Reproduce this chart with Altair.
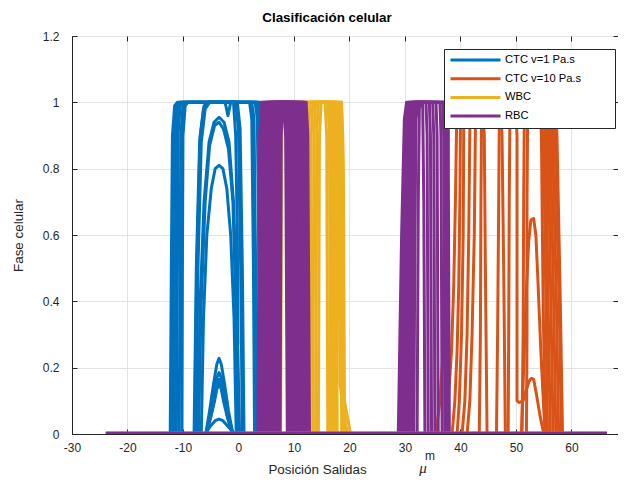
import altair as alt
import pandas as pd

SERIES = ["CTC v=1 Pa.s", "CTC v=10 Pa.s", "WBC", "RBC"]
COLORS = ["#0072BD", "#D95319", "#EDB120", "#7E2F8E"]
X_TICKS = [-30, -20, -10, 0, 10, 20, 30, 40, 50, 60]
Y_TICKS = [0, 0.2, 0.4, 0.6, 0.8, 1, 1.2]
BASELINE_X = [-23.9, 66.4]

# CTC v=1 Pa.s (blue) curves: lists of (x, y) points
ctc1_curves = [
    [(-12.3, 0), (-12.1, 0.5), (-11.9, 0.9), (-11.5, 0.99), (-11.0, 1), (3.0, 1), (3.4, 0.95), (3.7, 0.5), (3.9, 0)],
    [(-12.0, 0), (-11.8, 0.5), (-11.6, 0.9), (-11.2, 0.99), (-10.7, 1), (3.3, 1), (3.7, 0.95), (4.0, 0.5), (4.2, 0)],
    [(-11.6, 0), (-11.4, 0.5), (-11.2, 0.9), (-10.8, 0.99), (-10.3, 1), (3.6, 1), (4.0, 0.95), (4.3, 0.5), (4.5, 0)],
    [(-11.2, 0), (-11.0, 0.5), (-10.9, 0.9), (-10.5, 0.99), (-10.0, 1), (2.4, 1), (2.8, 0.95), (3.1, 0.5), (3.3, 0)],
    [(-10.7, 0), (-10.5, 0.5), (-10.4, 0.9), (-10.0, 0.99), (-9.5, 1), (2.0, 1), (2.4, 0.95), (2.7, 0.5), (2.9, 0)],
    [(-10.2, 0), (-10.1, 0.5), (-10.0, 0.9), (-9.6, 0.99), (-9.1, 1), (4.0, 1), (4.3, 0.95), (4.6, 0.5), (4.8, 0)],
    [(-8.0, 0), (-7.6, 0.5), (-7.0, 0.88), (-6.3, 0.98), (-5.5, 1), (-2.4, 1), (-1.9, 0.96), (-1.4, 1), (-0.2, 1), (0.3, 0.92), (0.7, 0.5), (1.0, 0)],
    [(-7.7, 0), (-7.3, 0.5), (-6.7, 0.88), (-6.0, 0.98), (-5.2, 1), (-0.5, 1), (0.0, 0.92), (0.4, 0.5), (0.7, 0)],
    [(-7.9, 0), (-7.5, 0.5), (-6.9, 0.9), (-6.2, 0.99), (-5.4, 1), (-0.9, 1), (-0.5, 0.9), (-0.2, 0.6), (-0.1, 0.27)],
    [(-7.4, 0), (-6.9, 0.4), (-6.2, 0.7), (-5.3, 0.88), (-4.4, 0.94), (-3.5, 0.955), (-2.6, 0.94), (-1.7, 0.88), (-0.9, 0.7), (-0.3, 0.4), (0.2, 0)],
    [(-7.2, 0), (-6.7, 0.4), (-6.0, 0.7), (-5.2, 0.87), (-4.3, 0.93), (-3.5, 0.94), (-2.7, 0.92), (-1.8, 0.86), (-1.0, 0.7), (-0.5, 0.4), (0.0, 0)],
    [(-6.7, 0), (-6.3, 0.35), (-5.7, 0.6), (-4.9, 0.74), (-4.2, 0.8), (-3.5, 0.81), (-2.8, 0.8), (-2.1, 0.74), (-1.4, 0.6), (-0.8, 0.35), (-0.4, 0)],
    [(-5.9, 0), (-5.2, 0.07), (-4.5, 0.15), (-3.9, 0.21), (-3.5, 0.228), (-3.1, 0.21), (-2.5, 0.15), (-1.8, 0.07), (-1.0, 0)],
    [(-5.9, 0), (-5.1, 0.06), (-4.4, 0.13), (-3.9, 0.17), (-3.5, 0.185), (-3.1, 0.17), (-2.6, 0.13), (-1.9, 0.06), (-1.0, 0)],
    [(-5.8, 0), (-5.0, 0.055), (-4.3, 0.12), (-3.9, 0.15), (-3.5, 0.165), (-3.1, 0.15), (-2.7, 0.12), (-2.0, 0.055), (-1.1, 0)],
    [(-5.8, 0), (-5.0, 0.05), (-4.3, 0.1), (-3.9, 0.135), (-3.5, 0.15), (-3.1, 0.135), (-2.7, 0.1), (-2.0, 0.05), (-1.1, 0)],
    [(-6.0, 0), (-5.0, 0.025), (-4.2, 0.04), (-3.5, 0.045), (-2.8, 0.04), (-2.0, 0.025), (-0.6, 0)],
]

# CTC v=10 Pa.s (orange) curves
ctc10_curves = [
    [(35.6, 0), (36.3, 0.1), (36.9, 0.25), (37.3, 0.45), (37.6, 0.7), (37.8, 0.92), (38.2, 1), (44.0, 1), (44.3, 0.9), (44.5, 0.5), (44.8, 0)],
    [(37.2, 0), (37.8, 0.1), (38.4, 0.25), (38.8, 0.45), (39.1, 0.7), (39.3, 0.92), (39.7, 1), (47.2, 1), (47.5, 0.9), (47.8, 0.5), (48.1, 0)],
    [(38.5, 0), (39.0, 0.1), (39.4, 0.25), (39.7, 0.45), (39.9, 0.7), (40.0, 0.92), (40.4, 1), (49.9, 1), (50.2, 0.9), (50.2, 0.1), (50.6, 0.095), (51.3, 0.1), (51.8, 0.13), (52.4, 0.16), (52.8, 0.168), (53.2, 0.165), (53.7, 0.12), (54.3, 0.06), (54.9, 0.01), (55.2, 0)],
    [(39.4, 0), (39.8, 0.1), (40.2, 0.3), (40.5, 0.6), (40.6, 0.92), (41.0, 1), (54.7, 1), (55.0, 0.9), (55.4, 0.4), (55.7, 0)],
    [(40.3, 0), (40.8, 0.1), (41.2, 0.3), (41.5, 0.6), (41.7, 0.92), (42.1, 1), (55.1, 1), (55.4, 0.9), (55.8, 0.4), (56.2, 0)],
    [(41.2, 0), (41.7, 0.1), (42.1, 0.3), (42.5, 0.6), (42.7, 0.92), (43.1, 1), (55.5, 1), (55.8, 0.9), (56.3, 0.4), (56.7, 0)],
    [(43.4, 0), (43.6, 0.3), (43.7, 0.7), (43.8, 0.92), (44.1, 1), (55.9, 1), (56.2, 0.9), (56.8, 0.4), (57.2, 0)],
    [(46.5, 0), (46.7, 0.3), (46.9, 0.7), (47.0, 0.92), (47.3, 1), (56.3, 1), (56.6, 0.9), (57.3, 0.4), (57.7, 0)],
    [(48.6, 0), (48.7, 0.3), (48.8, 0.7), (48.9, 0.92), (49.2, 1), (56.7, 1), (57.0, 0.9), (57.8, 0.4), (58.2, 0)],
    [(51.1, 0), (51.3, 0.3), (51.4, 0.7), (51.5, 0.92), (51.8, 1), (54.3, 1), (54.6, 0.9), (54.9, 0.4), (55.3, 0)],
    [(51.9, 0), (52.0, 0.3), (52.0, 0.7), (52.1, 0.92), (52.4, 1), (57.1, 1), (57.4, 0.9), (58.0, 0.4), (58.4, 0)],
    [(51.0, 0), (51.4, 0.2), (51.8, 0.4), (52.3, 0.58), (52.7, 0.645), (53.2, 0.65), (53.6, 0.6), (54.0, 0.45), (54.5, 0.25), (55.0, 0.08), (55.3, 0)],
]

# WBC (yellow) curves
wbc_curves = [
    [(5.4, 0), (5.6, 0.9), (5.9, 1), (18.5, 1), (18.8, 0.9), (19.0, 0)],
    [(7.6, 0), (7.8, 0.9), (8.1, 1), (18.1, 1), (18.4, 0.9), (18.6, 0)],
    [(9.8, 0), (10.0, 0.9), (10.3, 1), (17.7, 1), (18.0, 0.9), (18.3, 0.15), (19.6, 0)],
    [(11.9, 0), (12.1, 0.9), (12.4, 1), (18.6, 1), (18.9, 0.8), (19.1, 0.1), (20.2, 0)],
    [(12.4, 0), (12.6, 0.9), (12.9, 1), (17.3, 1), (17.6, 0.9), (17.8, 0)],
    [(12.9, 0), (13.1, 0.9), (13.4, 1), (16.9, 1), (17.2, 0.9), (17.4, 0)],
    [(13.4, 0), (13.6, 0.9), (13.9, 1), (16.5, 1), (16.8, 0.9), (17.0, 0)],
    [(13.9, 0), (14.1, 0.9), (14.4, 1), (16.1, 1), (16.4, 0.9), (16.6, 0)],
    [(14.4, 0), (14.6, 0.9), (14.9, 1), (15.6, 1), (15.9, 0.9), (16.1, 0)],
]

# RBC (purple) curves
rbc_curves = [
    [(3.5, 0), (3.8, 0.9), (4.2, 1), (12.2, 1), (12.5, 0.9), (12.8, 0)],
    [(3.9, 0), (4.1, 0.9), (4.5, 1), (11.8, 1), (12.1, 0.9), (12.4, 0)],
    [(4.3, 0), (4.5, 0.9), (4.9, 1), (11.4, 1), (11.7, 0.9), (12.0, 0)],
    [(4.7, 0), (4.9, 0.9), (5.3, 1), (11.0, 1), (11.3, 0.9), (11.6, 0)],
    [(5.1, 0), (5.3, 0.9), (5.7, 1), (10.6, 1), (10.9, 0.9), (11.2, 0)],
    [(5.5, 0), (5.7, 0.9), (6.1, 1), (10.2, 1), (10.5, 0.9), (10.8, 0)],
    [(5.9, 0), (6.1, 0.9), (6.5, 1), (9.8, 1), (10.1, 0.9), (10.4, 0)],
    [(6.3, 0), (6.5, 0.9), (6.9, 1), (9.4, 1), (9.7, 0.9), (10.0, 0)],
    [(6.7, 0), (6.9, 0.9), (7.3, 1), (9.0, 1), (9.3, 0.9), (9.6, 0)],
    [(7.1, 0), (7.3, 0.9), (7.7, 1), (8.6, 1), (8.9, 0.9), (9.2, 0)],
    [(7.5, 0), (7.7, 0.9), (8.0, 1), (8.2, 1), (8.5, 0.9), (8.8, 0)],
    [(28.8, 0), (29.4, 0.6), (29.9, 0.95), (30.3, 1), (37.6, 1), (37.8, 0.9), (38.0, 0)],
    [(29.2, 0), (29.8, 0.6), (30.3, 0.95), (30.7, 1), (37.2, 1), (37.4, 0.9), (37.6, 0)],
    [(29.6, 0), (30.2, 0.6), (30.7, 0.95), (31.1, 1), (36.8, 1), (37.0, 0.9), (37.2, 0)],
    [(30.0, 0), (30.5, 0.6), (31.0, 0.95), (31.4, 1), (36.3, 1), (36.5, 0.9), (36.7, 0)],
    [(30.4, 0), (30.8, 0.6), (31.2, 0.95), (31.6, 1), (35.6, 1), (35.8, 0.9), (36.0, 0)],
    [(30.8, 0), (31.1, 0.6), (31.4, 0.95), (31.8, 1), (35.0, 1), (35.2, 0.9), (35.4, 0)],
    [(31.2, 0), (31.4, 0.6), (31.7, 0.95), (32.0, 1), (34.4, 1), (34.6, 0.9), (34.8, 0)],
    [(31.6, 0), (31.8, 0.6), (32.0, 0.95), (32.4, 1), (33.8, 1), (34.0, 0.9), (34.2, 0)],
    [(32.2, 0), (32.4, 0.7), (32.6, 0.98), (32.8, 1), (33.2, 1), (33.4, 0.7), (33.6, 0)],
]

rows = []
for s, curves in zip(SERIES, [ctc1_curves, ctc10_curves, wbc_curves, rbc_curves]):
    for ci, c in enumerate(curves):
        for pi, (x, y) in enumerate(c):
            rows.append({"serie": s, "curve": ci, "idx": pi, "x": x, "y": y})
df = pd.DataFrame(rows)

base_rows = []
for si, s in enumerate(SERIES):
    for pi, x in enumerate(BASELINE_X):
        base_rows.append({"serie": s, "k": si, "idx": pi, "x": x, "y": 0.0})
df_base = pd.DataFrame(base_rows)

W, H = 546, 398
FONT = "Liberation Sans"
AX = "#262626"
xs = alt.Scale(domain=[-30, 68.4], nice=False, zero=False)
ys = alt.Scale(domain=[0, 1.2], nice=False, zero=False)

pad = "\u00a0" * 9 + "\u200b"
legend = alt.Legend(
    title=None, orient="none", legendX=372, legendY=13, direction="vertical",
    symbolType="stroke", symbolSize=2500, symbolStrokeWidth=3, clipHeight=12,
    rowPadding=6.7, padding=5, labelOffset=3, labelFontSize=11.2, labelFont=FONT,
    labelColor="#000000", fillColor="#ffffff", strokeColor=AX,
    labelExpr="datum.label + '" + pad + "'", symbolOpacity=1,
)
color = alt.Color("serie:N", scale=alt.Scale(domain=SERIES, range=COLORS), legend=legend)

x_main = alt.Axis(
    values=X_TICKS, labelExpr="'' + datum.value", grid=True, gridColor="#e3e3e3", gridWidth=1,
    ticks=False, tickSize=0, domain=True, domainColor=AX, labelColor=AX, labelFont=FONT,
    labelFontSize=12, labelPadding=8, labelFlush=False, labelOverlap=False,
    title="Posición Salidas", titleFont=FONT, titleFontSize=13.4, titleFontWeight="normal",
    titleColor=AX, titleX=245, titleY=35, titleAlign="center", titleBaseline="middle",
)
y_main = alt.Axis(
    values=Y_TICKS, format="~g", grid=True, gridColor="#e3e3e3", gridWidth=1,
    ticks=False, tickSize=0, domain=True, domainColor=AX, labelColor=AX, labelFont=FONT,
    labelFontSize=12, labelPadding=13, labelFlush=False, labelOverlap=False,
    title="Fase celular", titleFont=FONT, titleFontSize=13.4, titleFontWeight="normal",
    titleColor=AX, titleX=-54, titleY=199, titleAlign="center", titleBaseline="middle",
    titleAngle=270,
)


def curves_layer(s, first=False):
    return alt.Chart(df).transform_filter(alt.datum.serie == s).mark_line(
        strokeWidth=3, strokeJoin="round", clip=True
    ).encode(
        x=alt.X("x:Q", scale=xs, axis=x_main if first else None),
        y=alt.Y("y:Q", scale=ys, axis=y_main if first else None),
        color=color,
        detail="curve:N",
        order="idx:Q",
    )


base_layer = alt.Chart(df_base).mark_line(strokeWidth=4.5, clip=True).encode(
    x=alt.X("x:Q", scale=xs, axis=None),
    y=alt.Y("y:Q", scale=ys, axis=None),
    color=color,
    detail="k:N",
    order="idx:Q",
)

tick_x_df = pd.DataFrame({"x": X_TICKS})
tick_y_df = pd.DataFrame({"y": Y_TICKS})


def tick_axis(orient):
    return alt.Axis(orient=orient, offset=-H if orient in ("top", "bottom") else -W,
                    labels=False, domain=False, grid=False, ticks=True, tickSize=5,
                    tickColor=AX, tickWidth=1, title=None,
                    values=X_TICKS if orient in ("top", "bottom") else Y_TICKS)


tick_layers = [
    alt.Chart(tick_x_df).mark_point(opacity=0).encode(x=alt.X("x:Q", scale=xs, axis=tick_axis("top"))),
    alt.Chart(tick_x_df).mark_point(opacity=0).encode(x=alt.X("x:Q", scale=xs, axis=tick_axis("bottom"))),
    alt.Chart(tick_y_df).mark_point(opacity=0).encode(y=alt.Y("y:Q", scale=ys, axis=tick_axis("right"))),
    alt.Chart(tick_y_df).mark_point(opacity=0).encode(y=alt.Y("y:Q", scale=ys, axis=tick_axis("left"))),
]

mu = alt.Chart(pd.DataFrame({"t": ["μ"]})).mark_text(
    font="Liberation Serif", fontStyle="italic", fontSize=15, color=AX, align="center", baseline="middle"
).encode(text="t:N", x=alt.value(351), y=alt.value(432))
sup = alt.Chart(pd.DataFrame({"t": ["m"]})).mark_text(
    font=FONT, fontSize=12, color=AX, align="center", baseline="middle"
).encode(text="t:N", x=alt.value(358), y=alt.value(420))

chart = alt.layer(
    curves_layer(SERIES[0], first=True),
    curves_layer(SERIES[1]),
    curves_layer(SERIES[2]),
    curves_layer(SERIES[3]),
    base_layer,
    *tick_layers,
    mu,
    sup,
).resolve_axis(x="independent", y="independent").properties(
    width=W, height=H, autosize="none",
    padding={"left": 64, "top": 28, "right": 0, "bottom": 46},
    title=alt.TitleParams(
        text="Clasificación celular", font=FONT, fontSize=13.4, fontWeight="bold",
        color="#000000", anchor="middle", frame="group", dx=-18, offset=6,
    ),
).configure_view(stroke=AX, strokeWidth=1).configure(background="white")

chart.save("out.html", embed_options={"renderer": "svg", "actions": False})
